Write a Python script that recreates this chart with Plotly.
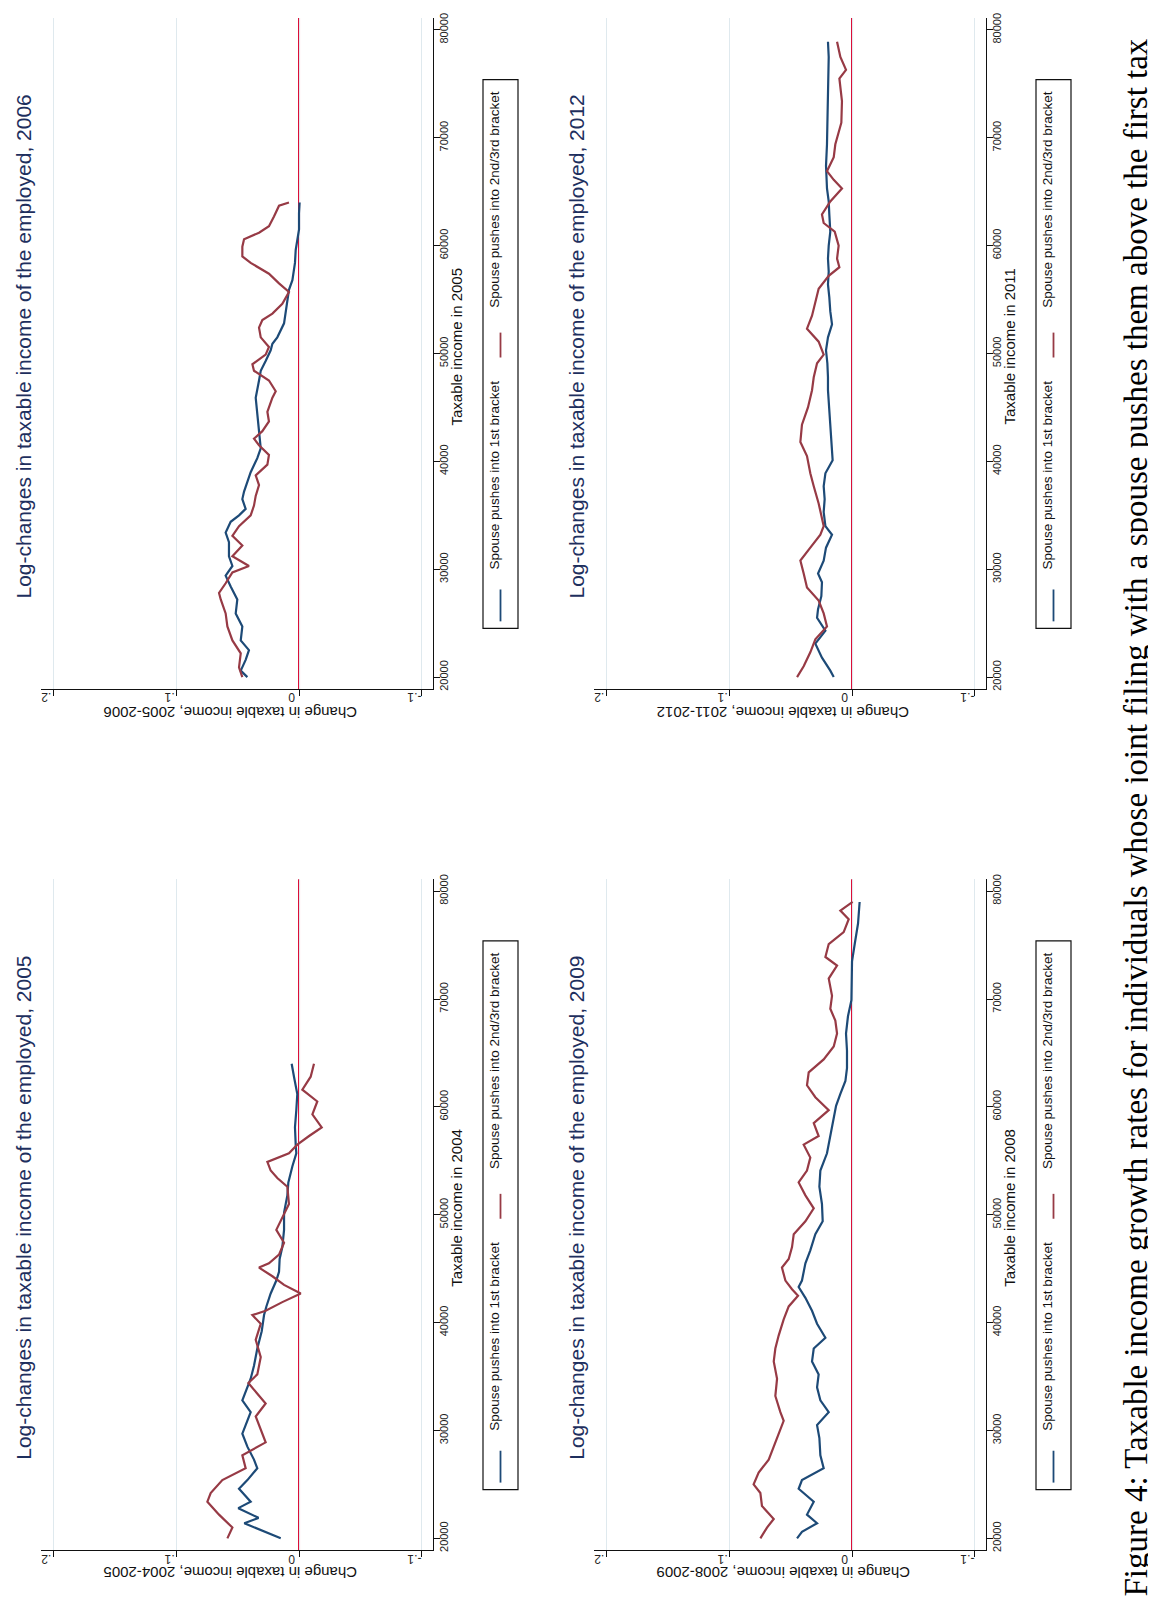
import plotly.graph_objects as go

W, H = 1156, 1612

# ---------------- data ----------------
# Panel "2006": taxable income in 2005, change 2005-2006
inc06_first = [20000, 20600, 21600, 22500, 23400, 24700, 25900, 27200, 28400, 29400, 30300, 31200, 32500, 33400,
               34400, 35000, 35600, 36500, 37200, 38100, 39000, 40300, 41200, 42800, 44300, 45900, 47500, 48400,
               49300, 50300, 50900, 51500, 52800, 53700, 54600, 55900, 56800, 58400, 59600, 61500, 63000, 64000]
chg06_first = [.0421, .0475, .0435, .0408, .0475, .0462, .0516, .0503, .0557, .0598, .0543, .0571, .0571, .0598,
               .0557, .0489, .0435, .0462, .0448, .0421, .0394, .0340, .0312, .0326, .0340, .0353, .0326, .0312,
               .0272, .0231, .0217, .0177, .0122, .0109, .0095, .0082, .0054, .0033, .0027, .0000, .0000, -.0005]
inc06_upper = [20000, 20900, 22200, 23400, 24700, 25900, 27200, 27800, 28700, 29700, 30300, 31200, 32200, 33100,
               34000, 35000, 35900, 36800, 37800, 38700, 39700, 40600, 41500, 42100, 42800, 43700, 44600, 45900,
               46500, 47500, 48400, 49000, 49900, 50600, 51500, 52400, 53100, 53700, 54600, 55700, 56500, 57400,
               58400, 59000, 59900, 60600, 61200, 61800, 62700, 63700, 64000]
chg06_upper = [.0462, .0489, .0475, .0543, .0584, .0598, .0638, .0652, .0598, .0543, .0408, .0543, .0462, .0543,
               .0489, .0394, .0367, .0353, .0326, .0353, .0258, .0245, .0326, .0367, .0299, .0245, .0258, .0217,
               .0190, .0245, .0367, .0380, .0272, .0245, .0312, .0326, .0299, .0217, .0136, .0082, .0163, .0245,
               .0394, .0462, .0462, .0448, .0326, .0245, .0204, .0163, .0082]

# Panel "2012": taxable income in 2011, change 2011-2012
inc12_first = [20000, 20600, 21800, 23100, 24300, 25500, 26300, 27500, 28800, 29600, 30800, 32000, 33200, 34000,
               35300, 36500, 37700, 38900, 40100, 41800, 43400, 45000, 46600, 47800, 49100, 50300, 51500, 52700,
               53900, 55200, 56400, 57600, 58800, 60000, 61300, 62900, 64100, 65300, 67400, 69400, 71400, 73400,
               75500, 77500, 78900]
chg12_first = [.0149, .0177, .0245, .0299, .0217, .0285, .0277, .0250, .0245, .0277, .0231, .0212, .0163, .0217,
               .0231, .0223, .0231, .0217, .0158, .0168, .0177, .0190, .0196, .0196, .0201, .0212, .0196, .0163,
               .0177, .0185, .0196, .0190, .0196, .0190, .0177, .0185, .0190, .0204, .0212, .0204, .0201, .0196,
               .0190, .0190, .0196]
inc12_upper = [20000, 21000, 22300, 23500, 24700, 25900, 27100, 28300, 29600, 30800, 32000, 33200, 34000, 34800,
               36100, 37700, 38900, 40500, 41800, 43400, 45000, 46600, 47800, 49100, 49900, 51100, 52300, 53500,
               54800, 56000, 57200, 58000, 58800, 60000, 61300, 62100, 62900, 64100, 65300, 66100, 66900, 68200,
               69400, 71400, 73400, 75500, 76300, 77500, 78900]
chg12_upper = [.0448, .0394, .0340, .0299, .0204, .0231, .0272, .0367, .0394, .0421, .0340, .0258, .0231, .0245,
               .0272, .0312, .0340, .0367, .0421, .0408, .0359, .0326, .0312, .0285, .0231, .0272, .0367, .0326,
               .0299, .0272, .0190, .0103, .0122, .0109, .0141, .0231, .0245, .0177, .0082, .0149, .0204, .0149,
               .0136, .0087, .0082, .0103, .0049, .0095, .0122]

# Panel "2005": taxable income in 2004, change 2004-2005
inc05_first = [20000, 20800, 21400, 21900, 22800, 23400, 24600, 25400, 26500, 27300, 28500, 29700, 30500, 31700,
               32800, 33600, 34800, 36000, 37600, 39200, 40700, 41500, 42700, 43900, 44700, 45900, 47000, 48600,
               50200, 51800, 53000, 54500, 55700, 56500, 58100, 59700, 61200, 62800, 64000]
chg05_first = [.0149, .0315, .0446, .0330, .0495, .0394, .0489, .0421, .0340, .0367, .0421, .0462, .0435, .0394,
               .0462, .0435, .0394, .0367, .0340, .0304, .0285, .0266, .0231, .0185, .0163, .0158, .0136, .0122,
               .0122, .0095, .0087, .0054, .0022, .0027, .0033, .0022, .0014, .0041, .0060]
inc05_upper = [20000, 21000, 22200, 23400, 24200, 25400, 26500, 27700, 28900, 30100, 31300, 32500, 33200, 34400,
               35200, 36800, 38400, 39900, 40700, 41100, 41900, 42700, 43500, 44300, 45100, 45500, 46300, 47400,
               48600, 49400, 51000, 52600, 53400, 54100, 54900, 55700, 56500, 57300, 58100, 59300, 60500, 61600,
               62800, 64000]
chg05_upper = [.0584, .0543, .0652, .0747, .0720, .0625, .0435, .0462, .0272, .0312, .0353, .0272, .0326, .0413,
               .0340, .0312, .0353, .0312, .0380, .0272, .0136, -.0014, .0122, .0217, .0326, .0245, .0163, .0122,
               .0185, .0149, .0082, .0095, .0177, .0231, .0258, .0082, .0014, -.0082, -.0185, -.0109, -.0149, -.0027,
               -.0095, -.0122]

# Panel "2009": taxable income in 2008, change 2008-2009
inc09_first = [20000, 20600, 21400, 22200, 23400, 24600, 25400, 26500, 27700, 29300, 30500, 31700, 32800, 34000,
               35200, 36400, 37600, 38600, 39900, 41100, 42300, 43300, 43900, 45500, 46700, 48200, 49400, 51000,
               52600, 54100, 55700, 57300, 58900, 60100, 61200, 62400, 63600, 65200, 66800, 68400, 69900, 71900,
               73500, 75100, 77000, 79000]
chg09_first = [.0448, .0408, .0285, .0367, .0312, .0435, .0408, .0231, .0258, .0266, .0285, .0190, .0258, .0285,
               .0272, .0326, .0312, .0217, .0285, .0326, .0380, .0435, .0408, .0380, .0340, .0299, .0239, .0245,
               .0266, .0258, .0204, .0177, .0149, .0130, .0095, .0054, .0041, .0041, .0049, .0033, .0005, .0000,
               .0000, -.0022, -.0049, -.0062]
inc09_upper = [20000, 21000, 21800, 23000, 24200, 25000, 26100, 27300, 28500, 29700, 30900, 31700, 33200, 34800,
               36400, 37600, 38800, 40300, 41500, 42500, 43100, 43900, 45100, 45900, 47000, 48200, 49400, 50600,
               51800, 53000, 54100, 55300, 56500, 57300, 58500, 59700, 60900, 62000, 63200, 64400, 65600, 66800,
               68000, 69100, 70300, 71900, 73100, 73900, 75100, 76200, 77400, 78200, 79000]
chg09_upper = [.0747, .0693, .0638, .0734, .0747, .0802, .0761, .0679, .0638, .0598, .0557, .0584, .0625, .0611,
               .0638, .0625, .0598, .0557, .0516, .0440, .0489, .0543, .0571, .0516, .0489, .0475, .0380, .0312,
               .0380, .0435, .0367, .0340, .0394, .0272, .0312, .0190, .0299, .0367, .0353, .0231, .0149, .0122,
               .0136, .0177, .0163, .0190, .0122, .0217, .0190, .0068, .0027, .0095, -.0005]

value_ticks = [-0.1, 0.0, 0.1, 0.2]
value_tick_text = ["-.1", "0", ".1", ".2"]
income_ticks = [20000, 30000, 40000, 50000, 60000, 70000, 80000]
income_tick_text = ["20000", "30000", "40000", "50000", "60000", "70000", "80000"]

series_names = ["Spouse pushes into 1st bracket", "Spouse pushes into 2nd/3rd bracket"]
panel_titles = ["Log-changes in taxable income of the employed, 2006",
                "Log-changes in taxable income of the employed, 2012",
                "Log-changes in taxable income of the employed, 2005",
                "Log-changes in taxable income of the employed, 2009"]
income_titles = ["Taxable income in 2005", "Taxable income in 2011", "Taxable income in 2004", "Taxable income in 2008"]
change_titles = ["Change in taxable income, 2005-2006", "Change in taxable income, 2011-2012",
                 "Change in taxable income, 2004-2005", "Change in taxable income, 2008-2009"]
caption = ("Figure 4: Taxable income growth rates for individuals whose joint filing with a spouse "
           "pushes them above the first tax")

panel_data = [
    (inc06_first, chg06_first, inc06_upper, chg06_upper),
    (inc12_first, chg12_first, inc12_upper, chg12_upper),
    (inc05_first, chg05_first, inc05_upper, chg05_upper),
    (inc09_first, chg09_first, inc09_upper, chg09_upper),
]
for d in panel_data:
    if len(d[0]) != len(d[1]) or len(d[2]) != len(d[3]):
        raise ValueError("length mismatch")

# ---------------- styling / layout ----------------
BLUE = "#1d4a77"
MAROON = "#973a45"
ZERO_RED = "#dc0a35"
GRID = "#dfe9ee"
TITLE_C = "#1e2f5e"
SANS = "Liberation Sans, Arial, sans-serif"
SERIF = "Liberation Serif, Times New Roman, serif"

# pixel boxes (left, top) of each plot area; size 392 x 674 px
boxes = [(33, 5), (586, 5), (33, 870), (586, 870)]
PW, PH = 392, 674
XR = [0.2103, -0.1092]
YR = [18892, 81108]

# rotated annotations render slightly offset from their anchor; compensate
ROT_DX, ROT_DY = -7, -7
FLIP_DX, FLIP_DY = -7, -10


def fx(px):
    return px / W


def fy(py):
    return 1 - py / H


def vtext(text, cx, cy, size, color="#111", family=SANS, dx=ROT_DX):
    return dict(text=text, x=fx(cx + dx), y=fy(cy + ROT_DY), xref="paper", yref="paper",
                textangle=-90, showarrow=False, xanchor="center", yanchor="middle",
                font=dict(family=family, size=size, color=color))


fig = go.Figure()
annotations = []
shapes = []

for i, ((L, T), d) in enumerate(zip(boxes, panel_data)):
    n = "" if i == 0 else str(i + 1)
    xa, ya = "x" + n, "y" + n
    R, B = L + PW, T + PH
    fig.add_trace(go.Scatter(x=d[1], y=d[0], mode="lines", line=dict(color=BLUE, width=2.2),
                             xaxis=xa, yaxis=ya, showlegend=False, name=series_names[0]))
    fig.add_trace(go.Scatter(x=d[3], y=d[2], mode="lines", line=dict(color=MAROON, width=2.2),
                             xaxis=xa, yaxis=ya, showlegend=False, name=series_names[1]))
    fig.layout["xaxis" + n] = dict(
        domain=[fx(L), fx(R)], range=XR, anchor=ya, tickvals=value_ticks, showticklabels=False,
        ticks="outside", ticklen=6, tickcolor="#111", showline=True, linecolor="#111",
        linewidth=1.2, showgrid=True, gridcolor=GRID, gridwidth=1, zeroline=False, fixedrange=True)
    fig.layout["yaxis" + n] = dict(
        domain=[fy(B), fy(T)], range=YR, anchor=xa, side="right", tickvals=income_ticks,
        ticktext=income_tick_text, tickangle=-90, ticks="outside", ticklen=6, tickcolor="#111",
        ticklabelstandoff=-5,
        showline=True, linecolor="#111", linewidth=1.2, showgrid=False, zeroline=False,
        tickfont=dict(family=SANS, size=11, color="#222"), fixedrange=True)
    # zero reference line
    shapes.append(dict(type="line", xref=xa, yref=ya + " domain", x0=0, x1=0, y0=0, y1=1,
                       line=dict(color=ZERO_RED, width=2), layer="below"))
    # upside-down value tick labels
    for tv, tt in zip(value_ticks, value_tick_text):
        annotations.append(dict(text=tt, x=tv, xref=xa, y=fy(B + 18 + FLIP_DY), yref="paper",
                                xshift=FLIP_DX, textangle=180, showarrow=False, xanchor="center",
                                yanchor="middle", font=dict(family=SANS, size=12, color="#222")))
    cy = (T + B) / 2
    annotations.append(vtext(panel_titles[i], L - 17, cy, 21, TITLE_C, dx=0))
    annotations.append(vtext(income_titles[i], R + 31, cy, 15))
    annotations.append(dict(text=change_titles[i], x=fx((L + R) / 2 + FLIP_DX), y=fy(B + 33 + FLIP_DY),
                            xref="paper", yref="paper", textangle=180, showarrow=False,
                            xanchor="center", yanchor="middle",
                            font=dict(family=SANS, size=15, color="#111")))
    # legend box
    lx0, lx1 = R + 50, R + 85
    ly0, ly1 = T + 62, T + 613
    shapes.append(dict(type="rect", xref="paper", yref="paper", x0=fx(lx0), x1=fx(lx1), y0=fy(ly1), y1=fy(ly0),
                       line=dict(color="#111", width=1.2), fillcolor="white", layer="above"))
    kx = (lx0 + lx1) / 2
    shapes.append(dict(type="line", xref="paper", yref="paper", x0=fx(kx), x1=fx(kx),
                       y0=fy(T + 606), y1=fy(T + 574), line=dict(color=BLUE, width=1.8)))
    shapes.append(dict(type="line", xref="paper", yref="paper", x0=fx(kx), x1=fx(kx),
                       y0=fy(T + 341), y1=fy(T + 316), line=dict(color=MAROON, width=1.8)))
    annotations.append(vtext(series_names[0], kx + 1, T + 466, 13.5))
    annotations.append(vtext(series_names[1], kx + 1, T + 190, 13.5))

annotations.append(vtext(caption, 1135, 815, 33, "#000", SERIF))

fig.update_layout(width=W, height=H, autosize=False, margin=dict(l=0, r=0, t=0, b=0),
                  paper_bgcolor="white", plot_bgcolor="white", showlegend=False,
                  annotations=annotations, shapes=shapes)

fig.write_html("out.html")
